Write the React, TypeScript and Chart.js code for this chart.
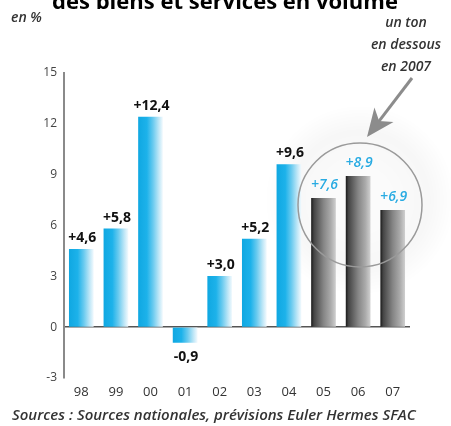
import React, { useEffect, useRef } from "react";
import { Chart, registerables } from "chart.js";

Chart.register(...registerables);

const years = ["98", "99", "00", "01", "02", "03", "04", "05", "06", "07"];
const growth = [4.6, 5.8, 12.4, -0.9, 3.0, 5.2, 9.6, 7.6, 8.9, 6.9];
const valueLabels = ["+4,6", "+5,8", "+12,4", "-0,9", "+3,0", "+5,2", "+9,6", "+7,6", "+8,9", "+6,9"];
const forecastFrom = 7;
const yTicks = [-3, 0, 3, 6, 9, 12, 15];
const titleText = "des biens et services en volume";
const unitText = "en %";
const noteLines = ["un ton", "en dessous", "en 2007"];
const sourceText = "Sources : Sources nationales, prévisions Euler Hermes SFAC";

const FONT = '"Open Sans", "DejaVu Sans", sans-serif';
const BLUE = "#1cb0e8";
const BAR_W = 24;

function barGradient(ctx: any) {
  const chart = ctx.chart;
  const xs = chart.scales && chart.scales.x;
  if (!xs || ctx.dataIndex == null) return BLUE;
  const cx = xs.getPixelForValue(ctx.dataIndex);
  if (!isFinite(cx)) return ctx.dataIndex >= forecastFrom ? "#777" : BLUE;
  const g = chart.ctx.createLinearGradient(cx - BAR_W / 2, 0, cx + BAR_W / 2, 0);
  if (ctx.dataIndex >= forecastFrom) {
    g.addColorStop(0, "#1e1e1e");
    g.addColorStop(0.1, "#444444");
    g.addColorStop(0.5, "#858585");
    g.addColorStop(0.8, "#aaaaaa");
    g.addColorStop(1, "#cdcdcd");
  } else {
    g.addColorStop(0, "#10a8e2");
    g.addColorStop(0.35, "#1db2ea");
    g.addColorStop(0.6, "#68caef");
    g.addColorStop(0.85, "#bfe7f7");
    g.addColorStop(1, "#eef8fd");
  }
  return g;
}

const decorPlugin = {
  id: "decor",
  beforeDatasetsDraw(chart: any) {
    const c = chart.ctx;
    c.save();
    const rg = c.createRadialGradient(360, 200, 30, 360, 200, 95);
    rg.addColorStop(0, "rgba(0,0,0,0.015)");
    rg.addColorStop(0.6, "rgba(0,0,0,0.03)");
    rg.addColorStop(1, "rgba(0,0,0,0)");
    c.fillStyle = rg;
    c.beginPath();
    c.arc(360, 200, 95, 0, Math.PI * 2);
    c.fill();
    c.restore();
  },
  afterDatasetsDraw(chart: any) {
    const c = chart.ctx;
    const meta = chart.getDatasetMeta(0);
    c.save();
    c.strokeStyle = "#9a9a9a";
    c.lineWidth = 1.5;
    c.beginPath();
    c.arc(360, 205, 62, 0, Math.PI * 2);
    c.stroke();

    meta.data.forEach((el: any, i: number) => {
      const v = growth[i];
      const forecast = i >= forecastFrom;
      c.textAlign = "center";
      c.textBaseline = "middle";
      if (forecast) {
        c.font = `italic 600 14px ${FONT}`;
        c.fillStyle = "#29abe2";
      } else {
        c.font = `bold 14px ${FONT}`;
        c.fillStyle = "#111";
      }
      if (v >= 0) {
        c.fillText(valueLabels[i], el.x + 1, el.y - (forecast ? 13 : 11));
      } else {
        c.fillText(valueLabels[i], el.x + 1, el.y + 15);
      }
    });

    const x1 = 412, y1 = 78, x2 = 367, y2 = 137;
    const ang = Math.atan2(y2 - y1, x2 - x1);
    c.strokeStyle = "#8c8c8c";
    c.fillStyle = "#8c8c8c";
    c.lineWidth = 3;
    c.beginPath();
    c.moveTo(x1, y1);
    c.lineTo(x2 - 18 * Math.cos(ang), y2 - 18 * Math.sin(ang));
    c.stroke();
    const hl = 28, hw = 12;
    const bx = x2 - hl * Math.cos(ang), by = y2 - hl * Math.sin(ang);
    const nx = x2 - (hl - 8) * Math.cos(ang), ny = y2 - (hl - 8) * Math.sin(ang);
    const px = -Math.sin(ang), py = Math.cos(ang);
    c.beginPath();
    c.moveTo(x2, y2);
    c.lineTo(bx + px * hw, by + py * hw);
    c.lineTo(nx, ny);
    c.lineTo(bx - px * hw, by - py * hw);
    c.closePath();
    c.fill();

    c.fillStyle = "#000";
    c.textAlign = "center";
    c.textBaseline = "alphabetic";
    c.font = `bold 22px ${FONT}`;
    c.fillText(titleText, 225, 9);

    c.fillStyle = "#333";
    c.textAlign = "left";
    c.textBaseline = "middle";
    c.font = `italic 600 14px ${FONT}`;
    c.fillText(unitText, 11, 18);

    c.textAlign = "center";
    noteLines.forEach((t, k) => {
      c.fillText(t, 406, 23 + k * 22);
    });

    c.textAlign = "left";
    c.font = `italic 600 15px ${FONT}`;
    c.fillText(sourceText, 12, 416);
    c.restore();
  },
};

export default function App() {
  const ref = useRef<HTMLCanvasElement>(null);
  useEffect(() => {
    if (!ref.current) return;
    const chart = new Chart(ref.current, {
      type: "bar",
      data: {
        labels: years,
        datasets: [
          {
            data: growth,
            backgroundColor: barGradient as any,
            borderWidth: 0,
            barThickness: BAR_W,
          },
        ],
      },
      options: {
        responsive: false,
        animation: false,
        layout: { padding: { top: 73, right: 41, bottom: 28, left: 0 } },
        plugins: {
          legend: { display: false },
          tooltip: { enabled: false },
          title: { display: false },
        },
        scales: {
          x: {
            grid: { display: false, drawTicks: false },
            border: { display: false },
            ticks: {
              padding: 6,
              autoSkip: false,
              maxRotation: 0,
              color: "#333",
              font: { family: FONT, size: 13 },
            },
            afterFit: (s: any) => {
              s.height = 20;
            },
          },
          y: {
            min: -3,
            max: 15,
            afterBuildTicks: (s: any) => {
              s.ticks = yTicks.map((v) => ({ value: v }));
            },
            grid: {
              drawTicks: false,
              color: (ctx: any) => (ctx.tick && ctx.tick.value === 0 ? "#555" : "rgba(0,0,0,0)"),
              lineWidth: 1.5,
            },
            border: { display: true, color: "#8a8a8a", width: 2 },
            ticks: {
              padding: 7,
              color: "#444",
              font: { family: FONT, size: 12 },
              callback: (v: any) => String(v),
            },
            afterFit: (s: any) => {
              s.width = 64;
            },
          },
        },
      },
      plugins: [decorPlugin],
    });
    return () => chart.destroy();
  }, []);
  return (
    <div style={{ position: "fixed", left: 0, top: 0, width: 451, height: 426, background: "#fff" }}>
      <canvas ref={ref} width={451} height={426} style={{ display: "block" }} />
    </div>
  );
}
